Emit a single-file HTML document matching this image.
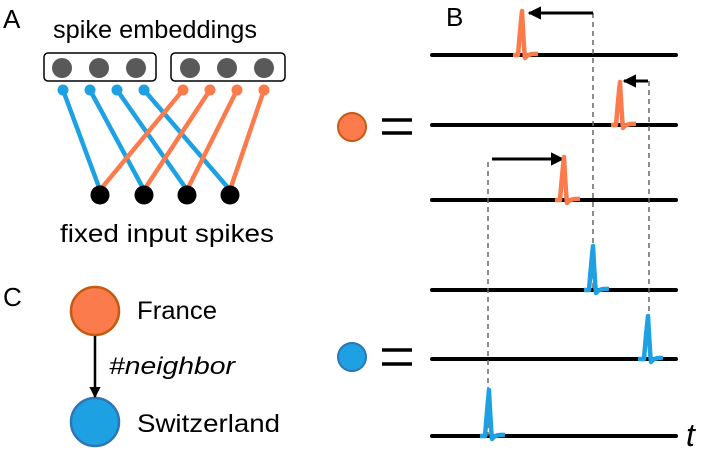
<!DOCTYPE html>
<html><head><meta charset="utf-8"><style>body{margin:0;background:#fff}svg{display:block}text{font-family:"Liberation Sans",sans-serif}</style></head><body>
<svg width="706" height="451" viewBox="0 0 706 451" xmlns="http://www.w3.org/2000/svg">
<defs>
<marker id="ah" viewBox="0 0 10 10" refX="9" refY="5" markerWidth="4.5" markerHeight="4.5" orient="auto-start-reverse"><path d="M0,0L10,5L0,10z" fill="#000"/></marker>
</defs>
<text x="3" y="28" font-size="26">A</text>
<text x="446" y="26" font-size="26">B</text>
<text x="3" y="306" font-size="26">C</text>
<text x="155" y="38" font-size="25" text-anchor="middle" textLength="204" lengthAdjust="spacingAndGlyphs">spike embeddings</text>
<rect x="44" y="53" width="112" height="28" rx="4" fill="none" stroke="#000" stroke-width="1.5"/>
<rect x="171" y="53" width="114" height="28" rx="4" fill="none" stroke="#000" stroke-width="1.5"/>
<g fill="#595959"><circle cx="62" cy="68" r="10"/><circle cx="99" cy="68" r="10"/><circle cx="136" cy="68" r="10"/><circle cx="190" cy="68" r="10"/><circle cx="227" cy="68" r="10"/><circle cx="264" cy="68" r="10"/></g>
<g stroke="#1da1e2" stroke-width="4.5"><line x1="63" y1="90" x2="100" y2="190"/><line x1="90" y1="90" x2="144" y2="190"/><line x1="117" y1="90" x2="187" y2="190"/><line x1="144" y1="90" x2="230" y2="190"/></g>
<g fill="#1da1e2"><circle cx="63" cy="90" r="5.5"/><circle cx="90" cy="90" r="5.5"/><circle cx="117" cy="90" r="5.5"/><circle cx="144" cy="90" r="5.5"/></g>
<g stroke="#fb7b4c" stroke-width="4.5"><line x1="183" y1="90" x2="100" y2="190"/><line x1="210" y1="90" x2="144" y2="190"/><line x1="237" y1="90" x2="187" y2="190"/><line x1="264" y1="90" x2="230" y2="190"/></g>
<g fill="#fb7b4c"><circle cx="183" cy="90" r="5.5"/><circle cx="210" cy="90" r="5.5"/><circle cx="237" cy="90" r="5.5"/><circle cx="264" cy="90" r="5.5"/></g>
<g fill="#000"><circle cx="100" cy="195" r="9.5"/><circle cx="144" cy="195" r="9.5"/><circle cx="187" cy="195" r="9.5"/><circle cx="230" cy="195" r="9.5"/></g>
<text x="167" y="242" font-size="25" text-anchor="middle" textLength="214" lengthAdjust="spacingAndGlyphs">fixed input spikes</text>
<circle cx="95" cy="311" r="24" fill="#fb7b4c" stroke="#c55a11" stroke-width="2.5"/>
<circle cx="95" cy="422" r="24" fill="#1da1e2" stroke="#2e75b6" stroke-width="2.5"/>
<line x1="95" y1="336" x2="95" y2="397" stroke="#000" stroke-width="2.5" marker-end="url(#ah)"/>
<text x="137" y="319" font-size="25" textLength="80" lengthAdjust="spacingAndGlyphs">France</text>
<text x="137" y="432" font-size="25" textLength="143" lengthAdjust="spacingAndGlyphs">Switzerland</text>
<text x="109" y="374" font-size="24" font-style="italic" textLength="126" lengthAdjust="spacingAndGlyphs">#neighbor</text>
<circle cx="352" cy="127" r="14" fill="#fb7b4c" stroke="#c55a11" stroke-width="2"/>
<circle cx="352" cy="357" r="14" fill="#1da1e2" stroke="#2e75b6" stroke-width="2"/>
<g stroke="#000" stroke-width="3.5"><line x1="382" y1="120" x2="412" y2="120"/><line x1="382" y1="133" x2="412" y2="133"/><line x1="382" y1="350" x2="412" y2="350"/><line x1="382" y1="364" x2="412" y2="364"/></g>
<g stroke="#000" stroke-width="4" stroke-linecap="round"><line x1="432" y1="55" x2="676" y2="55"/><line x1="432" y1="125" x2="676" y2="125"/><line x1="432" y1="200" x2="676" y2="200"/><line x1="432" y1="290" x2="676" y2="290"/><line x1="432" y1="359" x2="676" y2="359"/><line x1="432" y1="436" x2="676" y2="436"/></g>
<g stroke="#666" stroke-width="1.5" stroke-dasharray="5,4"><line x1="593" y1="13" x2="593" y2="290"/><line x1="649" y1="81" x2="649" y2="359"/><line x1="488" y1="162" x2="488" y2="436"/></g>
<g stroke="#000" stroke-width="3"><line x1="593" y1="13" x2="529" y2="13" marker-end="url(#ah)"/><line x1="648" y1="81" x2="624" y2="81" marker-end="url(#ah)"/><line x1="492" y1="159" x2="563" y2="159" marker-end="url(#ah)"/></g>
<g fill="none" stroke-width="4.5" stroke-linejoin="round">
<path d="M513,55 L518,55 Q520,30 522,11 Q524,50 525,58 Q528,53 538,54" stroke="#fb7b4c"/>
<path d="M611,125 L616,125 Q618,100 620,82 Q622,120 623,128 Q626,123 636,124" stroke="#fb7b4c"/>
<path d="M555,200 L560,200 Q562,175 564,157 Q566,195 567,203 Q570,198 580,199" stroke="#fb7b4c"/>
<path d="M584,290 L589,290 Q591,265 593,246 Q595,285 596,293 Q599,288 609,289" stroke="#1da1e2"/>
<path d="M638,359 L644,359 Q646,334 648,316 Q650,354 651,362 Q654,357 663,358" stroke="#1da1e2"/>
<path d="M480,436 L485,436 Q487,411 489,390 Q491,431 492,439 Q495,434 505,435" stroke="#1da1e2"/>
</g>
<text x="686" y="446" font-size="32" font-style="italic" font-family="Liberation Serif,serif">t</text>
</svg>
</body></html>
